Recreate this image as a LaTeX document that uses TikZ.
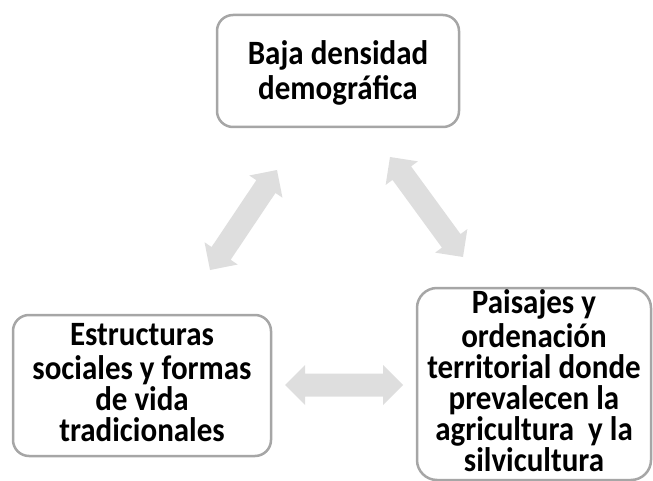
\documentclass[tikz,border=0pt]{standalone}
\usepackage{fontspec}
\setmainfont{Carlito}
\usetikzlibrary{calc}
\definecolor{boxline}{HTML}{A6A6A6}
\definecolor{arrowfill}{HTML}{DEDEDE}
\tikzset{
  box/.style={draw=boxline, line width=2.5pt, rounded corners=16pt, fill=white, inner sep=0pt},
  boxtext/.style={font=\fontsize{31}{28.2}\selectfont\bfseries, align=center, inner sep=0pt, text=black, yscale=1.1, transform shape},
  fatarrowstyle/.style={fill=arrowfill}
}
\newcommand\fatarrow[2]{%
  \fill[fatarrowstyle] (#1)
    -- ($(#1)!20pt!(#2)!20pt!90:(#2)$)
    -- ($(#1)!20pt!(#2)!11.5pt!90:(#2)$)
    -- ($(#2)!20pt!(#1)!11.5pt!-90:(#1)$)
    -- ($(#2)!20pt!(#1)!20pt!-90:(#1)$)
    -- (#2)
    -- ($(#2)!20pt!(#1)!20pt!90:(#1)$)
    -- ($(#2)!20pt!(#1)!11.5pt!90:(#1)$)
    -- ($(#1)!20pt!(#2)!11.5pt!-90:(#2)$)
    -- ($(#1)!20pt!(#2)!20pt!-90:(#2)$)
    -- cycle;}
\begin{document}
\begin{tikzpicture}[x=1pt,y=-1pt]
\useasboundingbox (0,0) rectangle (653,481);
% boxes
\node[box, minimum width=242pt, minimum height=112pt] (top) at (338,71) {};
\node[box, minimum width=258pt, minimum height=141pt] (left) at (142,385.5) {};
\node[box, rounded corners=20pt, minimum width=234pt, minimum height=192pt] (right) at (534,384) {};
% texts
\node[boxtext] (toptext) at (338,74.8) {\strut Baja densidad\\demográfica\strut};
\node[boxtext] (lefttext) at (142,386.8) {\strut Estructuras\\sociales y formas\\de vida\\tradicionales\strut};
\node[boxtext] (righttext) at (534,385.3) {\strut Paisajes y\\ordenación\\territorial donde\\prevalecen la\\agricultura~ y la\\silvicultura\strut};
% arrows
\coordinate (h1) at (285,385);
\coordinate (h2) at (403,385);
\coordinate (l1) at (210,270);
\coordinate (l2) at (277,170);
\coordinate (r1) at (390,157);
\coordinate (r2) at (463,257);
\fatarrow{h1}{h2}
\fatarrow{l1}{l2}
\fatarrow{r1}{r2}
\end{tikzpicture}
\end{document}
